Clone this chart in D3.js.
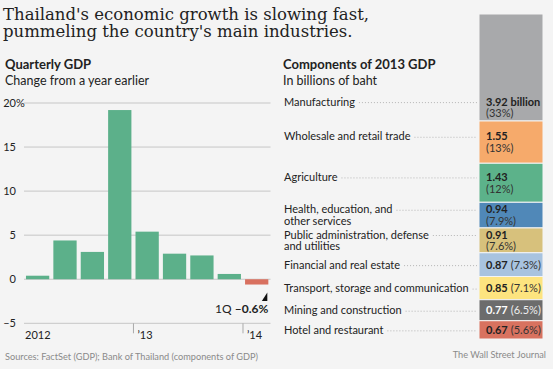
<!DOCTYPE html>
<html>
<head>
<meta charset="utf-8">
<script src="https://cdn.jsdelivr.net/npm/d3@7"></script>
<style>
  body { margin: 0; background: #f4f4f4; }
  svg { display: block; }
  .sans { font-family: Lato, "Open Sans", sans-serif; }
</style>
</head>
<body>
<script>
const quarters = ['1Q12', '2Q12', '3Q12', '4Q12', '1Q13', '2Q13', '3Q13', '4Q13', '1Q14'];
const growth = [0.4, 4.4, 3.1, 19.2, 5.4, 2.9, 2.7, 0.6, -0.6];
const yTicks = [-5, 0, 5, 10, 15, 20];
const yearStarts = ['1Q12', '1Q13', '1Q14'];
const yearLabels = ['2012', '\u201913', '\u201914'];

const sectors = [
  ['Manufacturing'],
  ['Wholesale and retail trade'],
  ['Agriculture'],
  ['Health, education, and', 'other services'],
  ['Public administration, defense', 'and utilities'],
  ['Financial and real estate'],
  ['Transport, storage and communication'],
  ['Mining and construction'],
  ['Hotel and restaurant']
];
const gdpValues = [3.92, 1.55, 1.43, 0.94, 0.91, 0.87, 0.85, 0.77, 0.67];
const gdpShares = ['33%', '13%', '12%', '7.9%', '7.6%', '7.3%', '7.1%', '6.5%', '5.6%'];
const sectorColors = ['#a8a9ab', '#f6aa6b', '#5cb28a', '#5088b8', '#d7c17c',
  '#a8c3df', '#fde47f', '#6c6c6c', '#d8725f'];

const width = 553,
  height = 369,
  green = '#5cb08a',
  red = '#d8705f',
  ink = '#222';

const svg = d3.select('body').append('svg')
  .attr('width', width)
  .attr('height', height);

svg.append('rect')
  .attr('width', width)
  .attr('height', height)
  .attr('fill', '#f4f4f4');

// headline
svg.append('g')
  .selectAll('text')
  .data(["Thailand's economic growth is slowing fast,", "pummeling the country's main industries."])
  .join('text')
  .attr('x', 3)
  .attr('y', (d, i) => 19.5 + i * 17.5)
  .attr('font-family', '"DejaVu Serif", serif')
  .attr('font-size', 16.5)
  .attr('fill', ink)
  .text(d => d);

const heads = [
  {x: 5, title: 'Quarterly GDP', sub: 'Change from a year earlier'},
  {x: 283, title: 'Components of 2013 GDP', sub: 'In billions of baht'}
];
heads.forEach(h => {
  svg.append('text').attr('class', 'sans')
    .attr('x', h.x).attr('y', 69)
    .attr('font-size', 13).attr('font-weight', 'bold').attr('fill', ink)
    .text(h.title);
  svg.append('text').attr('class', 'sans')
    .attr('x', h.x).attr('y', 85)
    .attr('font-size', 12.5).attr('fill', ink)
    .text(h.sub);
});

// ---- quarterly GDP bars
const x = d3.scaleBand()
  .domain(quarters)
  .range([24.6, 269.7])
  .paddingInner(0.15)
  .paddingOuter(0.05);

const y = d3.scaleLinear()
  .domain([-5, 20])
  .range([323.3, 103]);

const grid = svg.append('g');
grid.selectAll('line')
  .data(yTicks)
  .join('line')
  .attr('x1', 24)
  .attr('x2', 270.5)
  .attr('y1', d => y(d))
  .attr('y2', d => y(d))
  .attr('stroke', '#c6c6c6')
  .attr('stroke-width', 1);

grid.selectAll('text.num')
  .data(yTicks)
  .join('text')
  .attr('class', 'sans num')
  .attr('x', 16)
  .attr('y', d => y(d) + 4)
  .attr('text-anchor', 'end')
  .attr('font-size', 11)
  .attr('fill', ink)
  .text(d => d < 0 ? '\u2013' + Math.abs(d) : d);

grid.append('text')
  .attr('class', 'sans')
  .attr('x', 16)
  .attr('y', y(20) + 4)
  .attr('font-size', 11)
  .attr('fill', ink)
  .text('%');

svg.append('g')
  .selectAll('rect')
  .data(growth)
  .join('rect')
  .attr('x', (d, i) => x(quarters[i]))
  .attr('width', x.bandwidth())
  .attr('y', d => y(Math.max(0, d)))
  .attr('height', d => Math.abs(y(d) - y(0)))
  .attr('fill', d => d < 0 ? red : green);

// year ticks sit in the gap before the first quarter of each year
const gap = x.step() - x.bandwidth();
const xAxis = svg.append('g');
yearStarts.forEach((q, i) => {
  const tx = x(q) - gap / 2;
  if (i > 0) {
    xAxis.append('line')
      .attr('x1', tx).attr('x2', tx)
      .attr('y1', y(-5)).attr('y2', y(-5) + 10)
      .attr('stroke', '#aaa');
  }
  xAxis.append('text')
    .attr('class', 'sans')
    .attr('x', i > 0 ? tx + 4 : 25)
    .attr('y', 339)
    .attr('font-size', 11)
    .attr('fill', ink)
    .text(yearLabels[i]);
});

// latest-quarter callout
const last = quarters.length - 1;
const cx = x(quarters[last]) + x.bandwidth() - 1;
const cy = y(growth[last]) + 8;
svg.append('path')
  .attr('d', `M${cx},${cy} L${cx},${cy + 8.5} L${cx - 5.5},${cy + 8.5} Z`)
  .attr('fill', '#111');
const callout = svg.append('text')
  .attr('class', 'sans')
  .attr('x', cx + 1)
  .attr('y', cy + 20.5)
  .attr('text-anchor', 'end')
  .attr('font-size', 12)
  .attr('fill', ink);
callout.append('tspan').text('1Q ');
callout.append('tspan').attr('font-weight', 'bold')
  .text('\u2013' + Math.abs(growth[last]) + '%');

// ---- stacked 2013 components, largest on top
const total = d3.sum(gdpValues);
const s = d3.scaleLinear()
  .domain([0, total])
  .range([14, 339]);

let acc = 0;
const stack = gdpValues.map((v, i) => {
  const seg = {i, v, y0: acc, y1: acc + v};
  acc += v;
  return seg;
});

const barX = 479,
  barW = 64,
  lineH = 11.7,
  labelSize = 11;

svg.append('g')
  .selectAll('rect')
  .data(stack)
  .join('rect')
  .attr('x', barX)
  .attr('width', barW)
  .attr('y', d => s(d.y0))
  .attr('height', d => s(d.y1) - s(d.y0))
  .attr('fill', d => sectorColors[d.i])
  .attr('stroke', '#f4f4f4')
  .attr('stroke-width', 1);

const labels = svg.append('g');
stack.forEach(d => {
  const top = s(d.y0), bottom = s(d.y1);
  const twoLine = (bottom - top) > 24.3;
  const nLines = twoLine ? 2 : 1;
  // tall segments keep their label near the bottom
  const centre = (bottom - top) > 60 ? bottom - 13.5 : (top + bottom) / 2;
  const firstY = centre - (nLines - 1) * lineH / 2;
  const light = d.i === 7;

  const name = labels.append('text')
    .attr('class', 'sans')
    .attr('font-size', labelSize)
    .attr('fill', ink);
  sectors[d.i].forEach((line, k) => {
    name.append('tspan')
      .attr('x', 284)
      .attr('y', firstY + 4 + k * lineH)
      .text(line);
  });

  const firstLine = name.select('tspan').node();
  const end = 284 + firstLine.getComputedTextLength() + 4;
  labels.append('line')
    .attr('x1', end).attr('x2', barX - 2)
    .attr('y1', firstY + 1).attr('y2', firstY + 1)
    .attr('stroke', '#b5b5b5')
    .attr('stroke-dasharray', '1,2');

  const val = labels.append('text')
    .attr('class', 'sans')
    .attr('font-size', labelSize)
    .attr('fill', light ? '#fff' : ink);
  const valText = d.i === 0 ? d.v.toFixed(2) + ' billion' : d.v.toFixed(2);
  val.append('tspan')
    .attr('x', 486)
    .attr('y', firstY + 4)
    .attr('font-weight', 'bold')
    .text(valText);
  const pct = val.append('tspan')
    .attr('fill', light ? '#eee' : '#333')
    .text('(' + gdpShares[d.i] + ')');
  if (twoLine) pct.attr('x', 486).attr('y', firstY + 4 + lineH);
  else pct.attr('dx', 3);
});

// footer
svg.append('text')
  .attr('class', 'sans')
  .attr('x', 5).attr('y', 360)
  .attr('font-size', 9.2)
  .attr('fill', '#8a8a8a')
  .text('Sources: FactSet (GDP); Bank of Thailand (components of GDP)');

svg.append('text')
  .attr('class', 'sans')
  .attr('x', 546).attr('y', 358)
  .attr('text-anchor', 'end')
  .attr('font-size', 9.2)
  .attr('fill', '#8a8a8a')
  .text('The Wall Street Journal');
</script>
</body>
</html>
